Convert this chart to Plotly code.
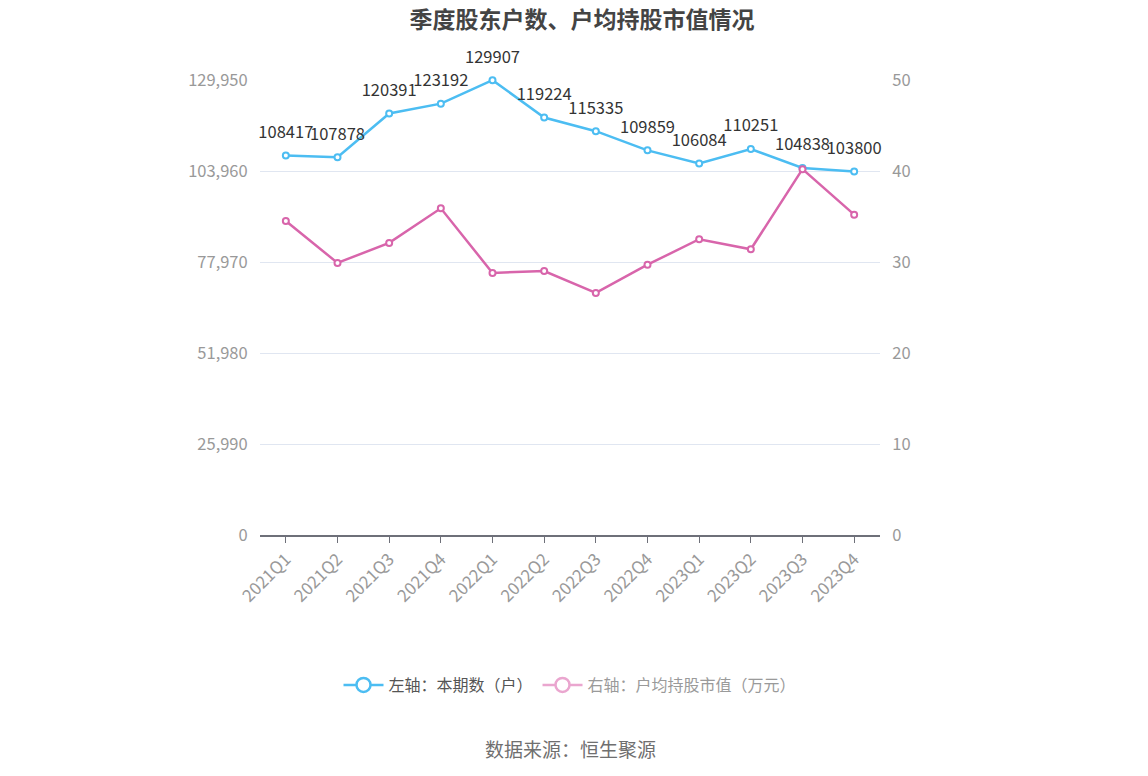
import plotly.graph_objects as go

quarters = ["2021Q1", "2021Q2", "2021Q3", "2021Q4", "2022Q1", "2022Q2",
            "2022Q3", "2022Q4", "2023Q1", "2023Q2", "2023Q3", "2023Q4"]
holders = [108417, 107878, 120391, 123192, 129907, 119224,
           115335, 109859, 106084, 110251, 104838, 103800]
avg_value = [34.5, 29.9, 32.1, 35.9, 28.8, 29.0,
             26.6, 29.7, 32.5, 31.4, 40.2, 35.2]
left_ticks = [0, 25990, 51980, 77970, 103960, 129950]
right_ticks = [0, 10, 20, 30, 40, 50]

BLUE = "#4cbdf2"
PINK = "#d865ab"
FONT = "Noto Sans CJK SC, Noto Sans, sans-serif"

# page has an 8px body margin; target screenshot positions are shifted accordingly
OFF = 8
L, R, T, B = 260 - OFF, 1148 - 880 + OFF, 80 - OFF, 776 - 535 + OFF
PH = 776 - T - B

fig = go.Figure()
fig.add_trace(go.Scatter(
    x=quarters, y=holders, mode="lines+markers",
    line=dict(color=BLUE, width=2.5),
    marker=dict(symbol="circle", size=6, color="white", line=dict(color=BLUE, width=2)),
    showlegend=False, yaxis="y", cliponaxis=False))
fig.add_trace(go.Scatter(
    x=quarters, y=avg_value, mode="lines+markers",
    line=dict(color=PINK, width=2.5),
    marker=dict(symbol="circle", size=6, color="white", line=dict(color=PINK, width=2)),
    showlegend=False, yaxis="y2", cliponaxis=False))
# data labels (invisible larger markers push the labels up)
fig.add_trace(go.Scatter(
    x=quarters, y=holders, mode="markers+text",
    text=[str(v) for v in holders], textposition="top center",
    textfont=dict(size=16.5, color="#333333", family=FONT),
    marker=dict(size=20, opacity=0),
    showlegend=False, yaxis="y", cliponaxis=False, hoverinfo="skip"))
# legend entries
fig.add_trace(go.Scatter(
    x=[None], y=[None], mode="lines+markers", name="左轴：本期数（户）",
    line=dict(color=BLUE, width=2.5),
    marker=dict(symbol="circle", size=14, color="white", line=dict(color=BLUE, width=2.5))))
fig.add_trace(go.Scatter(
    x=[None], y=[None], mode="lines+markers", yaxis="y2",
    name='<span style="color:#9a9a9a">右轴：户均持股市值（万元）</span>',
    line=dict(color="#eaa6cf", width=2.5),
    marker=dict(symbol="circle", size=14, color="white", line=dict(color="#eaa6cf", width=2.5))))

fig.update_layout(
    width=1148, height=776,
    paper_bgcolor="white", plot_bgcolor="white",
    margin=dict(l=L, r=R, t=T, b=B),
    font=dict(family=FONT, size=16, color="#999999"),
    title=dict(text="季度股东户数、户均持股市值情况", x=0.5, xanchor="center",
               y=1 - 12 / 776, yanchor="middle",
               font=dict(size=23, color="#444444", family=FONT, weight="bold")),
    xaxis=dict(type="category", range=[-0.5, 11.5], tickangle=-45,
               showline=True, linecolor="#6e7079", linewidth=1.5,
               ticks="outside", ticklen=6, tickcolor="#6e7079",
               showgrid=False, tickfont=dict(size=17, color="#999999")),
    yaxis=dict(range=[0, 129950], tickvals=left_ticks,
               ticktext=[f"{v:,}" for v in left_ticks],
               showgrid=True, gridcolor="#e0e6f1", gridwidth=1.2, zeroline=False,
               tickfont=dict(size=16.5, color="#999999"), ticklen=8, ticks="outside",
               tickcolor="rgba(0,0,0,0)"),
    yaxis2=dict(range=[0, 50], tickvals=right_ticks, overlaying="y", side="right",
                showgrid=False, zeroline=False,
                tickfont=dict(size=16.5, color="#999999"), ticklen=8, ticks="outside",
                tickcolor="rgba(0,0,0,0)"),
    legend=dict(orientation="h", x=0.5, xanchor="center",
                yref="container", y=1 - (685 - OFF) / 776, yanchor="middle",
                font=dict(size=16, color="#555555", family=FONT),
                itemwidth=40),
    annotations=[dict(text="数据来源：恒生聚源", xref="paper", yref="paper",
                      x=0.5, y=-(748 - 535) / PH, xanchor="center", yanchor="middle",
                      showarrow=False, font=dict(size=19, color="#6f6f6f", family=FONT))],
)

fig.write_html("out.html")
